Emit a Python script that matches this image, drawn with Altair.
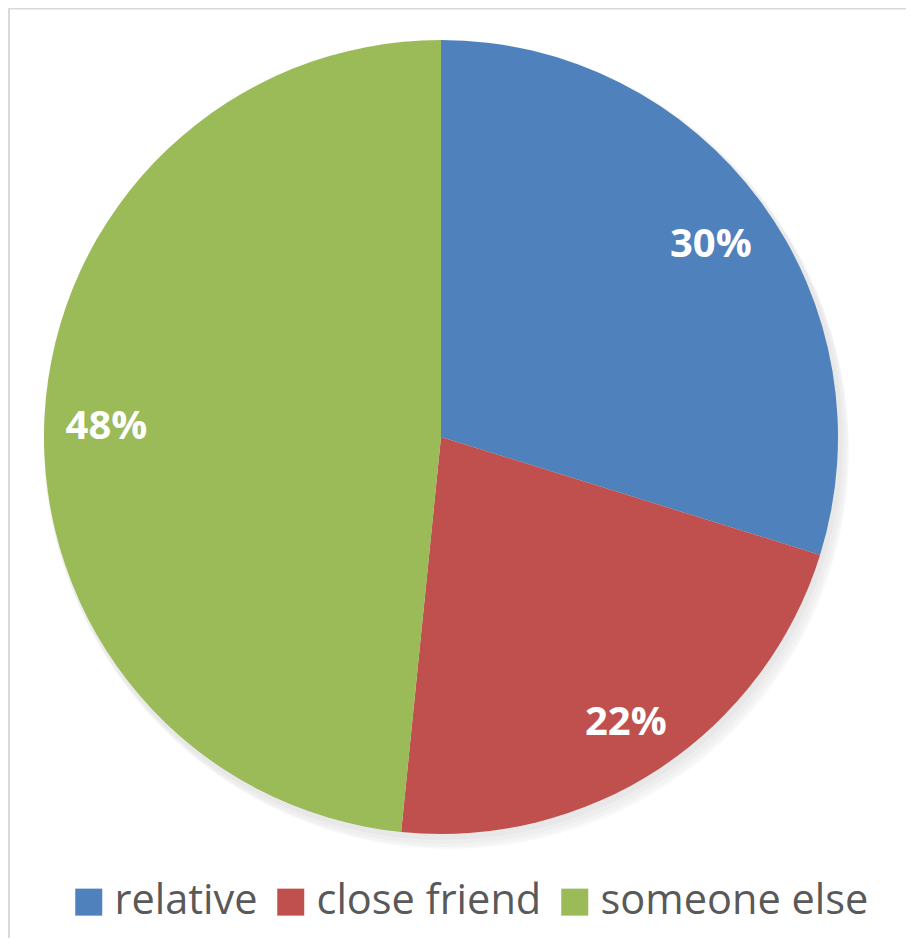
import altair as alt
import pandas as pd
import math

categories = ["relative", "close friend", "someone else"]
values = [29.8, 21.8, 48.4]
colors = ["#4F81BD", "#C0504D", "#9BBB59"]

df = pd.DataFrame({"category": categories, "value": values, "order": [0, 1, 2]})

CX, CY, R = 433, 429, 397

shadow_df = pd.DataFrame({"k": [0]})
shadows = []
for dx, dy, rad, op in [(2, 3, 400, 0.025), (4, 6, 401, 0.02), (6, 9, 401, 0.018), (8, 12, 400, 0.015), (10, 14, 398, 0.012)]:
    shadows.append(
        alt.Chart(shadow_df).mark_arc(theta=0, theta2=2 * math.pi, outerRadius=rad,
                                      color="#000000", opacity=op)
        .encode(x=alt.value(CX + dx), y=alt.value(CY + dy))
    )

base = alt.Chart(df).transform_calculate(pct="datum.value / 100").encode(
    theta=alt.Theta("value:Q", stack=True),
    order=alt.Order("order:Q"),
)

pie = base.mark_arc(outerRadius=R).encode(
    x=alt.value(CX),
    y=alt.value(CY),
    color=alt.Color(
        "category:N",
        scale=alt.Scale(domain=categories, range=colors),
        sort=categories,
        title=None,
        legend=alt.Legend(
            orient="none",
            legendX=60,
            legendY=873,
            direction="horizontal",
            symbolType="square",
            symbolSize=729,
            symbolStrokeWidth=0,
            symbolOpacity=1,
            labelFont="Open Sans",
            labelFontSize=41.5,
            labelColor="#595959",
            labelOffset=5,
            columnPadding=12,
            padding=0,
            labelLimit=400,
        ),
    ),
)

labels = base.mark_text(radius=335, dy=7, font="Open Sans", fontSize=40, fontWeight="bold",
                        color="white").encode(
    x=alt.value(CX),
    y=alt.value(CY),
    text=alt.Text("pct:Q", format=".0%"),
)

border_df = pd.DataFrame({"k": [0]})
top_line = alt.Chart(border_df).mark_rule(color="#d9d9d9", strokeWidth=2).encode(
    x=alt.value(0), x2=alt.value(900), y=alt.value(0.5))
left_line = alt.Chart(border_df).mark_rule(color="#d9d9d9", strokeWidth=2).encode(
    x=alt.value(1), y=alt.value(0), y2=alt.value(930))

chart = alt.layer(*shadows, pie, labels, top_line, left_line).properties(
    width=898, height=930, padding=0, autosize=alt.AutoSizeParams(type="none")
).configure_view(stroke=None).configure(background="white")

chart.save("out.html", embed_options={"renderer": "svg", "actions": False})
